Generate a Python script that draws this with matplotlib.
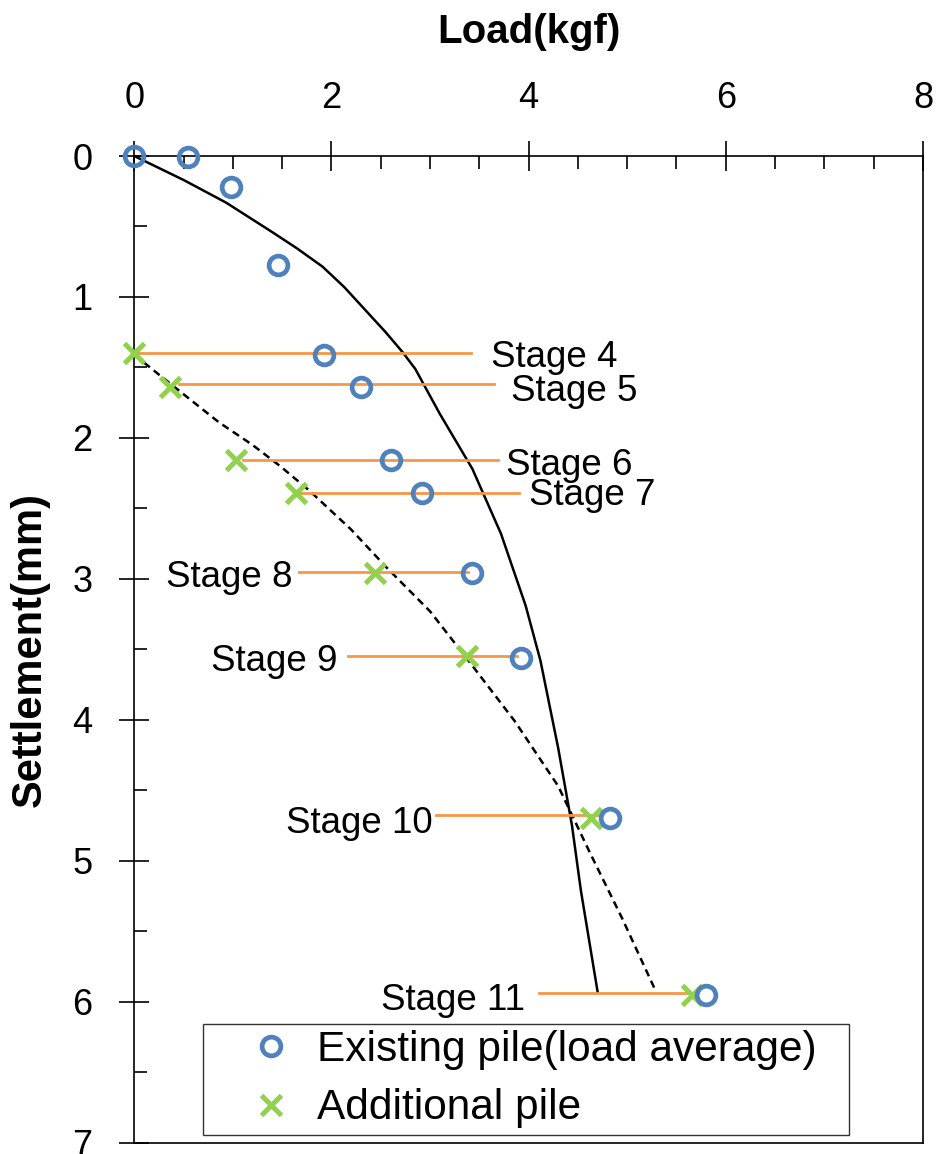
import matplotlib
matplotlib.use("Agg")
import matplotlib.pyplot as plt
from matplotlib.ticker import MultipleLocator

plt.rcParams['font.family'] = ['Liberation Sans', 'DejaVu Sans']

# Existing pile (load average)
exist_load = [0, 0.55, 0.98, 1.46, 1.92, 2.30, 2.60, 2.92, 3.43, 3.92, 4.83, 5.80]
exist_settle = [0, 0.01, 0.22, 0.77, 1.41, 1.64, 2.16, 2.39, 2.96, 3.56, 4.70, 5.95]

# Additional pile
add_load = [0, 0.36, 1.03, 1.64, 2.44, 3.38, 4.63, 5.655]
add_settle = [1.40, 1.637, 2.16, 2.39, 2.96, 3.55, 4.70, 5.95]

# Trend curve, existing pile (solid)
curve1_load = [0, 0.50, 0.93, 1.40, 1.65, 1.91, 2.13, 2.34, 2.55, 2.72, 2.85,
               3.10, 3.43, 3.72, 3.97, 4.12, 4.30, 4.44, 4.53, 4.70]
curve1_settle = [0, 0.17, 0.33, 0.54, 0.655, 0.785, 0.93, 1.09, 1.25, 1.39, 1.51,
                 1.83, 2.22, 2.68, 3.19, 3.58, 4.20, 4.75, 5.21, 5.93]

# Trend curve, additional pile (dashed)
curve2_load = [0, 0.32, 0.86, 1.20, 1.48, 1.77, 2.20, 2.56, 3.00, 3.39, 3.86, 4.30,
               4.62, 4.95, 5.28]
curve2_settle = [1.41, 1.59, 1.89, 2.05, 2.20, 2.37, 2.65, 2.92, 3.23, 3.58, 4.01, 4.47,
                 4.94, 5.41, 5.91]

# Stage marker lines
stage_names = ["Stage 4", "Stage 5", "Stage 6", "Stage 7",
               "Stage 8", "Stage 9", "Stage 10", "Stage 11"]
stage_y = [1.40, 1.62, 2.16, 2.39, 2.95, 3.55, 4.675, 5.94]
stage_x0 = [0.02, 0.45, 1.10, 1.64, 1.67, 2.17, 3.06, 4.11]
stage_x1 = [3.42, 3.65, 3.69, 3.90, 3.39, 3.88, 4.72, 5.65]
# label anchor (x, baseline y) and side
label_x = [3.62, 3.82, 3.77, 4.00, 1.61, 2.06, 3.03, 3.96]
label_y = [1.50, 1.737, 2.264, 2.477, 3.057, 3.653, 4.80, 6.06]
label_ha = ["left", "left", "left", "left", "right", "right", "right", "right"]

fig = plt.figure(figsize=(9.37, 11.54), dpi=100)
ax = fig.add_axes([0.1433, 0.0098, 0.8417, 0.855])

ax.plot(curve1_load, curve1_settle, color='black', lw=1.8, zorder=2)
ax.plot(curve2_load, curve2_settle, color='black', lw=1.8, ls=(0, (3, 2)), zorder=2)

for y, x0, x1 in zip(stage_y, stage_x0, stage_x1):
    ax.plot([x0, x1], [y, y], color='#F79646', lw=2.0, zorder=3)

for name, x, y, ha in zip(stage_names, label_x, label_y, label_ha):
    ax.text(x, y, name, ha=ha, va='baseline', fontsize=26.5, color='black')

ax.plot(exist_load, exist_settle, ls='none', marker='o', ms=13.5, mew=3.4,
        mfc='none', mec='#4F81BD', zorder=5, clip_on=False,
        label='Existing pile(load average)')
ax.plot(add_load, add_settle, ls='none', marker='x', ms=15, mew=3.6,
        mec='#92D050', zorder=4, clip_on=False, label='Additional pile')

ax.set_xlim(0, 8)
ax.set_ylim(7, 0)
ax.xaxis.set_major_locator(MultipleLocator(2))
ax.xaxis.set_minor_locator(MultipleLocator(0.5))
ax.yaxis.set_major_locator(MultipleLocator(1))
ax.yaxis.set_minor_locator(MultipleLocator(0.5))
ax.xaxis.tick_top()
ax.xaxis.set_label_position('top')

ax.tick_params(axis='both', which='major', direction='inout', length=22, width=1.2,
               labelsize=26, color='black')
ax.tick_params(axis='both', which='minor', direction='in', length=9, width=1.2)
ax.tick_params(axis='x', which='major', pad=18)
ax.tick_params(axis='y', which='major', pad=19)

for s in ax.spines.values():
    s.set_linewidth(1.2)
    s.set_color('black')

ax.set_xlabel('Load(kgf)', fontsize=29, fontweight='bold', labelpad=27)
ax.set_ylabel('Settlement(mm)', fontsize=30, fontweight='bold', labelpad=16)

leg = ax.legend(loc='lower left', bbox_to_anchor=(0.087, 0.008, 0.819, 0.112),
                mode='expand', fontsize=30.5, frameon=True, fancybox=False,
                edgecolor='black', borderpad=0.15, handlelength=2.9,
                handletextpad=-0.35, labelspacing=0.43, borderaxespad=0)
leg.get_frame().set_linewidth(1.0)

fig.savefig('out.png', dpi=100)
